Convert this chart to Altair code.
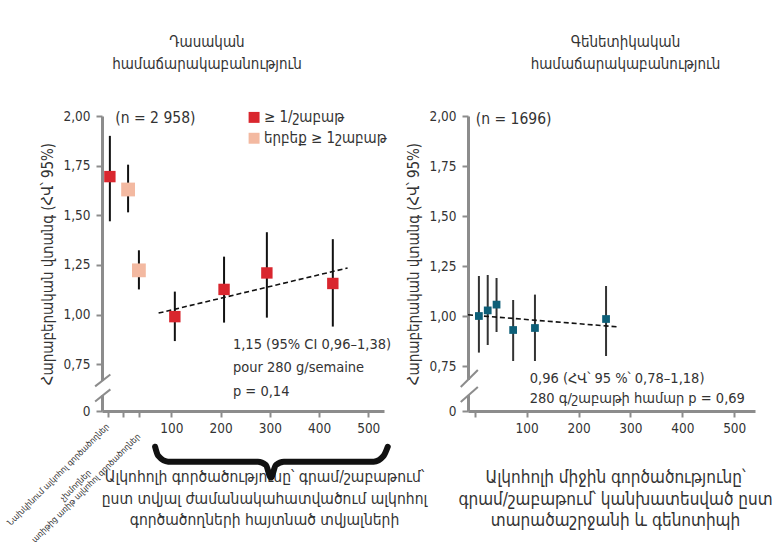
import altair as alt
import pandas as pd

FONT = "Liberation Sans Narrow, DejaVu Sans Condensed, DejaVu Sans, sans-serif"
TXT = "#333333"
AX = "#8c8c8c"
RED = "#d9262e"
LIGHT = "#f3b9a1"
TEAL = "#0d5f78"

# ---------------- data: classical epidemiology ----------------
left_x = [-25, 12, 34, 107, 207, 294, 428]
left_rr = [1.695, 1.63, 1.223, 0.99, 1.127, 1.21, 1.157]
left_lo = [1.47, 1.515, 1.127, 0.867, 0.96, 0.985, 0.94]
left_hi = [1.90, 1.755, 1.324, 1.116, 1.292, 1.415, 1.38]
left_grp = ["a", "b", "b", "a", "a", "a", "a"]
left_trend_x = [74, 458]
left_trend_y = [1.008, 1.235]

# ---------------- data: genetic epidemiology ----------------
right_x = [8, 25, 42, 74, 116, 253]
right_rr = [1.00, 1.028, 1.057, 0.93, 0.94, 0.985]
right_lo = [0.817, 0.855, 0.92, 0.775, 0.775, 0.80]
right_hi = [1.20, 1.205, 1.19, 1.08, 1.107, 1.15]
right_trend_x = [-13, 279]
right_trend_y = [1.006, 0.945]

y_ticks = [0.75, 1.0, 1.25, 1.5, 1.75, 2.0]
left_x_ticks = [-28, 2, 34, 100, 200, 300, 400, 500]
right_x_ticks = [0, 100, 200, 300, 400, 500]

legend_labels = ["≥ 1/շաբաթ", "երբեք ≥ 1շաբաթ"]
y_title = "Հարաբերական վտանգ (ՀՎ՝ 95%)"
left_title = ["Դասական", "համաճարակաբանություն"]
right_title = ["Գենետիկական", "համաճարակաբանություն"]
left_x_title = ["Ալկոհոլի գործածությունը՝ գրամ/շաբաթում՝",
                "ըստ տվյալ ժամանակահատվածում ալկոհոլ",
                "գործածողների հայտնած տվյալների"]
right_x_title = ["Ալկոհոլի միջին գործածությունը՝",
                 "գրամ/շաբաթում՝ կանխատեսված ըստ",
                 "տարածաշրջանի և գենոտիպի"]
left_note = ["1,15 (95% CI 0,96–1,38)", "pour 280 g/semaine", "p = 0,14"]
right_note = ["0,96 (ՀՎ՝ 95 %՝ 0,78–1,18)", "280 գ/շաբաթի համար p = 0,69"]
cat_labels = ["Նախկինում ալկոհոլ գործածողներ", "չխմողներ",
              "առիթից առիթ ալկոհոլ գործածողներ"]

L_DOM_X = [-41, 532]
L_DOM_Y = [0.515, 2.0]
R_DOM_X = [-13, 540]
R_DOM_Y = [0.525, 2.0]

ylab = "datum.value < 0.6 ? '0' : replace(format(datum.value, '.2f'), '.', ',')"


def axes(dom_x, dom_y, xticks, xtitle, tfs, tx):
    xs = alt.Scale(domain=dom_x, nice=False, zero=False)
    ys = alt.Scale(domain=dom_y, nice=False, zero=False)
    xa = alt.Axis(values=xticks, labelExpr="datum.value < 50 ? '' : format(datum.value, 'd')",
                  title=xtitle, grid=False, titlePadding=35, titleFontSize=tfs,
                  titleLineHeight=21.5, titleFontWeight="normal", labelPadding=4,
                  titleX=tx, titleAlign="center")
    ya = alt.Axis(values=[dom_y[0]] + y_ticks, labelExpr=ylab, title=y_title, grid=False,
                  titlePadding=7, titleFontSize=15, titleFontWeight="normal", labelPadding=6)
    return xs, ys, xa, ya


def panel(xv, rr, lo, hi, colors, sizes, trend_x, trend_y, dom_x, dom_y, xticks, xtitle,
          tfs, tx, err_color, breaks, notes, n_text, n_pos):
    xs, ys, xa, ya = axes(dom_x, dom_y, xticks, xtitle, tfs, tx)
    df = pd.DataFrame({"x": xv, "rr": rr, "lo": lo, "hi": hi, "c": colors, "s": sizes})
    err = alt.Chart(df).mark_rule(color=err_color, strokeWidth=2).encode(
        x=alt.X("x:Q", scale=xs, axis=xa),
        y=alt.Y("lo:Q", scale=ys, axis=ya),
        y2="hi:Q")
    pts = alt.Chart(df).mark_point(shape="square", filled=True, opacity=1).encode(
        x=alt.X("x:Q", scale=xs, axis=xa),
        y=alt.Y("rr:Q", scale=ys, axis=ya),
        color=alt.Color("c:N", scale=None),
        size=alt.Size("s:Q", scale=None))
    tdf = pd.DataFrame({"x": trend_x, "rr": trend_y})
    trend = alt.Chart(tdf).mark_line(color="#111", strokeWidth=1.6, strokeDash=[5, 3]).encode(
        x=alt.X("x:Q", scale=xs, axis=xa),
        y=alt.Y("rr:Q", scale=ys, axis=ya))
    bx, gap, s1, s2 = breaks
    wdf = pd.DataFrame({"x": [bx], "lo": [gap[0]], "hi": [gap[1]]})
    white = alt.Chart(wdf).mark_rule(color="white", strokeWidth=6).encode(
        x=alt.X("x:Q", scale=xs, axis=xa), y=alt.Y("lo:Q", scale=ys, axis=ya), y2="hi:Q")
    sdf = pd.DataFrame({"x": [s1[0], s2[0]], "x2": [s1[1], s2[1]],
                        "lo": [s1[2], s2[2]], "hi": [s1[3], s2[3]]})
    slash = alt.Chart(sdf).mark_rule(color=AX, strokeWidth=2).encode(
        x=alt.X("x:Q", scale=xs, axis=xa), x2="x2:Q",
        y=alt.Y("lo:Q", scale=ys, axis=ya), y2="hi:Q")
    ndf = pd.DataFrame({"x": [n_pos[0]], "rr": [n_pos[1]], "t": [n_text]})
    ntext = alt.Chart(ndf).mark_text(align="left", baseline="middle", fontSize=15.5,
                                     font=FONT, color=TXT).encode(
        x=alt.X("x:Q", scale=xs, axis=xa), y=alt.Y("rr:Q", scale=ys, axis=ya), text="t:N")
    nx, nys, ntxt, nfs = notes
    notedf = pd.DataFrame({"x": [nx] * len(ntxt), "rr": nys, "t": ntxt})
    note = alt.Chart(notedf).mark_text(align="left", baseline="middle", fontSize=nfs,
                                       font=FONT, color=TXT).encode(
        x=alt.X("x:Q", scale=xs, axis=xa), y=alt.Y("rr:Q", scale=ys, axis=ya), text="t:N")
    return [white, slash, err, trend, pts, ntext, note], xs, ys, xa, ya


# ---- left
l_layers, lxs, lys, lxa, lya = panel(
    left_x, left_rr, left_lo, left_hi,
    [RED if g == "a" else LIGHT for g in left_grp],
    [130 if g == "a" else 190 for g in left_grp],
    left_trend_x, left_trend_y, L_DOM_X, L_DOM_Y, left_x_ticks, left_x_title, 15.5, 162, "#111",
    (-41, (0.594, 0.666), (-55, -24, 0.639, 0.699), (-55, -24, 0.563, 0.624)),
    (225, [0.845, 0.730, 0.609], left_note, 14.5), "(n = 2 958)", (-14, 1.99))

legdf = pd.DataFrame({"x": [268, 268], "rr": [1.993, 1.888], "c": [RED, LIGHT],
                      "t": legend_labels, "tx": [288, 288]})
leg_sq = alt.Chart(legdf).mark_point(shape="square", filled=True, opacity=1, size=120).encode(
    x=alt.X("x:Q", scale=lxs, axis=lxa), y=alt.Y("rr:Q", scale=lys, axis=lya),
    color=alt.Color("c:N", scale=None))
leg_tx = alt.Chart(legdf).mark_text(align="left", baseline="middle", fontSize=15,
                                    font=FONT, color=TXT).encode(
    x=alt.X("tx:Q", scale=lxs, axis=lxa), y=alt.Y("rr:Q", scale=lys, axis=lya), text="t:N")

catdf = pd.DataFrame({"x": [-130, -95, -74], "rr": [0.196, 0.141, 0.128], "t": cat_labels})
cats = alt.Chart(catdf).mark_text(angle=315, align="center", baseline="middle",
                                  font=FONT, color=TXT, fontSize=8.5).encode(
    x=alt.X("x:Q", scale=lxs, axis=lxa), y=alt.Y("rr:Q", scale=lys, axis=lya), text="t:N")

brace_x = [66.9, 73, 93.3, 275.9, 292, 302, 312.4, 328.6, 511, 531.4, 539.6]
brace_y = [0.335, 0.29, 0.26, 0.26, 0.243, 0.18, 0.243, 0.26, 0.26, 0.29, 0.335]
bdf = pd.DataFrame({"x": brace_x, "rr": brace_y})
brace = alt.Chart(bdf).mark_line(color="#111", strokeWidth=6, interpolate="monotone",
                                 strokeCap="round").encode(
    x=alt.X("x:Q", scale=lxs, axis=lxa), y=alt.Y("rr:Q", scale=lys, axis=lya))

left = alt.layer(*l_layers, leg_sq, leg_tx, cats, brace).properties(
    width=282, height=295,
    title=alt.TitleParams(left_title, fontSize=15, lineHeight=22, dx=-36, offset=37,
                          font=FONT, color=TXT, fontWeight="normal"))

# ---- right
r_layers, rxs, rys, rxa, rya = panel(
    right_x, right_rr, right_lo, right_hi, [TEAL] * len(right_x), [60] * len(right_x),
    right_trend_x, right_trend_y, R_DOM_X, R_DOM_Y, right_x_ticks, right_x_title, 17, 147, "#333",
    (-13, (0.605, 0.68), (-27, 6, 0.645, 0.73), (-27, 6, 0.57, 0.645)),
    (106, [0.685, 0.585], right_note, 14.5), "(n = 1696)", (2, 1.985))

right = alt.layer(*r_layers).properties(
    width=287, height=295,
    title=alt.TitleParams(right_title, fontSize=15, lineHeight=22, dx=14, offset=37,
                          font=FONT, color=TXT, fontWeight="normal"))

chart = alt.hconcat(left, right, spacing=84, bounds="flush").properties(
    padding={"left": 5, "top": 35, "right": 0, "bottom": 0},
    background="white"
).configure_view(stroke=None).configure_axis(
    domainColor=AX, domainWidth=3, tickColor=AX, tickWidth=2, tickSize=6,
    labelColor=TXT, labelFont=FONT, labelFontSize=13.5, titleFont=FONT, titleColor=TXT
).configure_title(anchor="middle")

chart.save("out.html", embed_options={"renderer": "svg", "actions": False})
